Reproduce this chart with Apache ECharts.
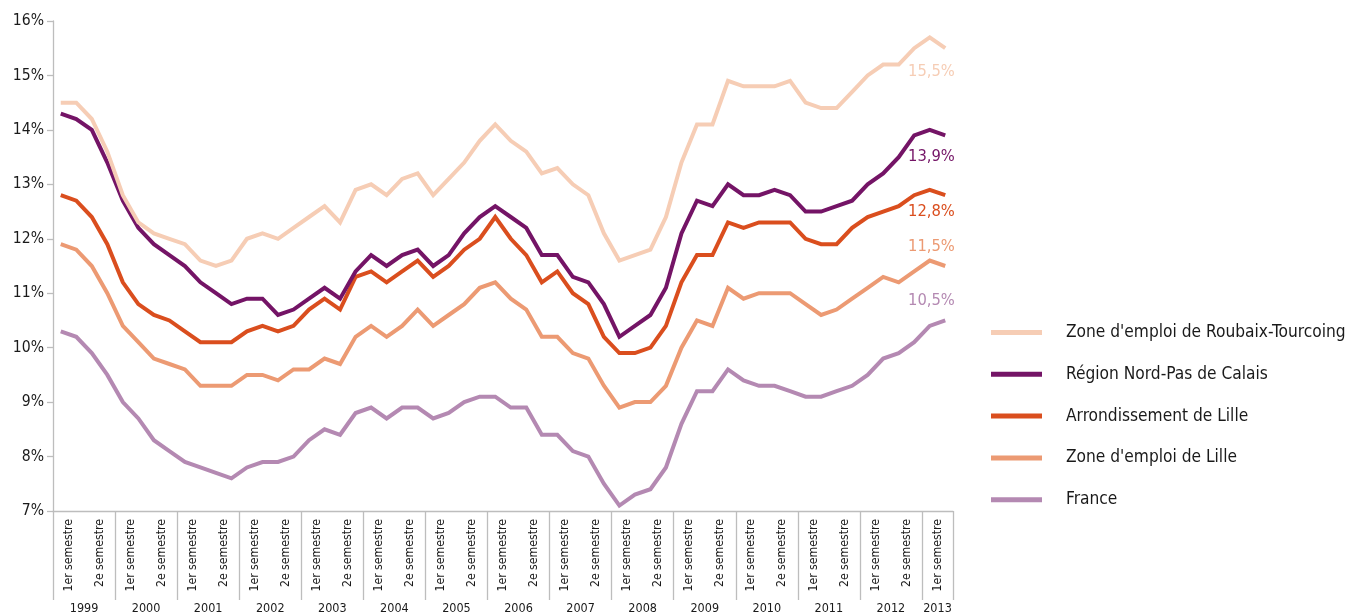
<!DOCTYPE html>
<html>
<head>
<meta charset="utf-8">
<script src="https://cdn.jsdelivr.net/npm/echarts@6/dist/echarts.min.js"></script>
<style>
html,body{margin:0;padding:0;background:#fff;}
#chart{width:1353px;height:614px;}
</style>
</head>
<body>
<div id="chart"></div>
<script>
// ---- Data ----
const years = ['1999','2000','2001','2002','2003','2004','2005','2006','2007','2008','2009','2010','2011','2012','2013'];
const quartersPerYear = [4,4,4,4,4,4,4,4,4,4,4,4,4,4,2];
const semesterLabels = ['1er semestre','2e semestre'];
const yTicks = [7,8,9,10,11,12,13,14,15,16];

const seriesNames = [
  "Zone d'emploi de Roubaix-Tourcoing",
  "Région Nord-Pas de Calais",
  "Arrondissement de Lille",
  "Zone d'emploi de Lille",
  "France"
];

const roubaix = [14.5,14.5,14.2,13.6,12.8,12.3,12.1,12.0,11.9,11.6,
  11.5,11.6,12.0,12.1,12.0,12.2,12.4,12.6,12.3,12.9,
  13.0,12.8,13.1,13.2,12.8,13.1,13.4,13.8,14.1,13.8,
  13.6,13.2,13.3,13.0,12.8,12.1,11.6,11.7,11.8,12.4,
  13.4,14.1,14.1,14.9,14.8,14.8,14.8,14.9,14.5,14.4,
  14.4,14.7,15.0,15.2,15.2,15.5,15.7,15.5];

const region = [14.3,14.2,14.0,13.4,12.7,12.2,11.9,11.7,11.5,11.2,
  11.0,10.8,10.9,10.9,10.6,10.7,10.9,11.1,10.9,11.4,
  11.7,11.5,11.7,11.8,11.5,11.7,12.1,12.4,12.6,12.4,
  12.2,11.7,11.7,11.3,11.2,10.8,10.2,10.4,10.6,11.1,
  12.1,12.7,12.6,13.0,12.8,12.8,12.9,12.8,12.5,12.5,
  12.6,12.7,13.0,13.2,13.5,13.9,14.0,13.9];

const arrondLille = [12.8,12.7,12.4,11.9,11.2,10.8,10.6,10.5,10.3,10.1,
  10.1,10.1,10.3,10.4,10.3,10.4,10.7,10.9,10.7,11.3,
  11.4,11.2,11.4,11.6,11.3,11.5,11.8,12.0,12.4,12.0,
  11.7,11.2,11.4,11.0,10.8,10.2,9.9,9.9,10.0,10.4,
  11.2,11.7,11.7,12.3,12.2,12.3,12.3,12.3,12.0,11.9,
  11.9,12.2,12.4,12.5,12.6,12.8,12.9,12.8];

const zoneLille = [11.9,11.8,11.5,11.0,10.4,10.1,9.8,9.7,9.6,9.3,
  9.3,9.3,9.5,9.5,9.4,9.6,9.6,9.8,9.7,10.2,
  10.4,10.2,10.4,10.7,10.4,10.6,10.8,11.1,11.2,10.9,
  10.7,10.2,10.2,9.9,9.8,9.3,8.9,9.0,9.0,9.3,
  10.0,10.5,10.4,11.1,10.9,11.0,11.0,11.0,10.8,10.6,
  10.7,10.9,11.1,11.3,11.2,11.4,11.6,11.5];

const france = [10.3,10.2,9.9,9.5,9.0,8.7,8.3,8.1,7.9,7.8,
  7.7,7.6,7.8,7.9,7.9,8.0,8.3,8.5,8.4,8.8,
  8.9,8.7,8.9,8.9,8.7,8.8,9.0,9.1,9.1,8.9,
  8.9,8.4,8.4,8.1,8.0,7.5,7.1,7.3,7.4,7.8,
  8.6,9.2,9.2,9.6,9.4,9.3,9.3,9.2,9.1,9.1,
  9.2,9.3,9.5,9.8,9.9,10.1,10.4,10.5];

// ---- Derived categories ----
const quarters = [];
const semesters = [];
const yearCenters = {};   // boundary index -> year label
const yearBounds = {};    // boundary index -> true
let b = 0;
years.forEach((y, k) => {
  const n = quartersPerYear[k];
  yearBounds[b] = true;
  yearCenters[b + n / 2] = y;
  for (let q = 0; q < n; q++) quarters.push(y + '-T' + (q + 1));
  for (let s = 0; s < n / 2; s++) semesters.push(y + '|' + semesterLabels[s]);
  b += n;
});
yearBounds[b] = true;
const boundaries = [];
for (let i = 0; i <= quarters.length; i++) boundaries.push(String(i));

// ---- Styles ----
const FONT = "'DejaVu Sans Condensed', 'DejaVu Sans', sans-serif";
const AXIS_COLOR = '#BDBDBD';
const TEXT_COLOR = '#1a1a1a';
const colors = ['#F6CDB5', '#741466', '#DA4E1E', '#EC9A73', '#B489B2'];
const endLabelOffsets = [[9.6, 23.4], [9.6, 21.4], [9.6, 17], [9.6, -19], [9.6, -19.4]];
const allData = [roubaix, region, arrondLille, zoneLille, france];

const fmt = v => v.toFixed(1).replace('.', ',') + '%';

const series = allData.map((d, k) => ({
  name: seriesNames[k],
  type: 'line',
  xAxisIndex: 0,
  yAxisIndex: 0,
  data: d,
  symbol: 'none',
  smooth: false,
  animation: false,
  lineStyle: { color: colors[k], width: 4, join: 'miter' },
  itemStyle: { color: colors[k] },
  z: 10 - k,
  markPoint: {
    symbol: 'circle',
    symbolSize: 0,
    animation: false,
    data: [{ coord: [quarters[quarters.length - 1], d[d.length - 1]], value: d[d.length - 1] }],
    label: {
      show: true,
      position: 'left',
      distance: 0,
      offset: endLabelOffsets[k],
      formatter: p => fmt(p.value),
      color: colors[k],
      fontFamily: FONT,
      fontSize: 16.4
    }
  }
}));

const chart = echarts.init(document.getElementById('chart'), null, { renderer: 'canvas' });
chart.setOption({
  animation: false,
  backgroundColor: '#ffffff',
  grid: { left: 53, right: 400, top: 21, bottom: 103, containLabel: false, outerBoundsMode: 'none' },
  legend: {
    orient: 'vertical',
    left: 991,
    top: 322,
    padding: 0,
    icon: 'rect',
    itemWidth: 51,
    itemHeight: 5,
    itemGap: 20.8,
    data: seriesNames,
    textStyle: { fontFamily: FONT, fontSize: 17.2, color: TEXT_COLOR, lineHeight: 21, padding: [0, 0, 0, 19] }
  },
  xAxis: [
    {
      type: 'category', data: quarters, boundaryGap: true, position: 'bottom',
      axisLine: { show: true, lineStyle: { color: AXIS_COLOR, width: 1.3 } },
      axisTick: { show: false }, axisLabel: { show: false }, splitLine: { show: false }
    },
    {
      type: 'category', data: semesters, boundaryGap: true, position: 'bottom',
      axisLine: { show: false }, axisTick: { show: false }, splitLine: { show: false },
      axisLabel: {
        interval: 0, rotate: 90, margin: 8, fontFamily: FONT, fontSize: 12.2, color: TEXT_COLOR,
        formatter: v => v.split('|')[1]
      }
    },
    {
      type: 'category', data: boundaries, boundaryGap: false, position: 'bottom',
      axisLine: { show: false }, splitLine: { show: false },
      axisTick: {
        show: true, length: 89, inside: false,
        interval: (i) => !!yearBounds[i],
        lineStyle: { color: AXIS_COLOR, width: 1.3 }
      },
      axisLabel: {
        show: true, margin: 91, fontFamily: FONT, fontSize: 12.5, color: TEXT_COLOR,
        interval: (i) => yearCenters[i] !== undefined,
        formatter: (v) => yearCenters[Number(v)] || ''
      }
    }
  ],
  yAxis: {
    type: 'value',
    min: yTicks[0],
    max: yTicks[yTicks.length - 1],
    interval: 1,
    axisLine: { show: true, lineStyle: { color: AXIS_COLOR, width: 1.3 } },
    axisTick: { show: true, length: 6, lineStyle: { color: AXIS_COLOR, width: 1.3 } },
    splitLine: { show: false },
    axisLabel: { margin: 9, fontFamily: FONT, fontSize: 15.6, color: TEXT_COLOR, formatter: '{value}%' }
  },
  series: series
});
</script>
</body>
</html>
